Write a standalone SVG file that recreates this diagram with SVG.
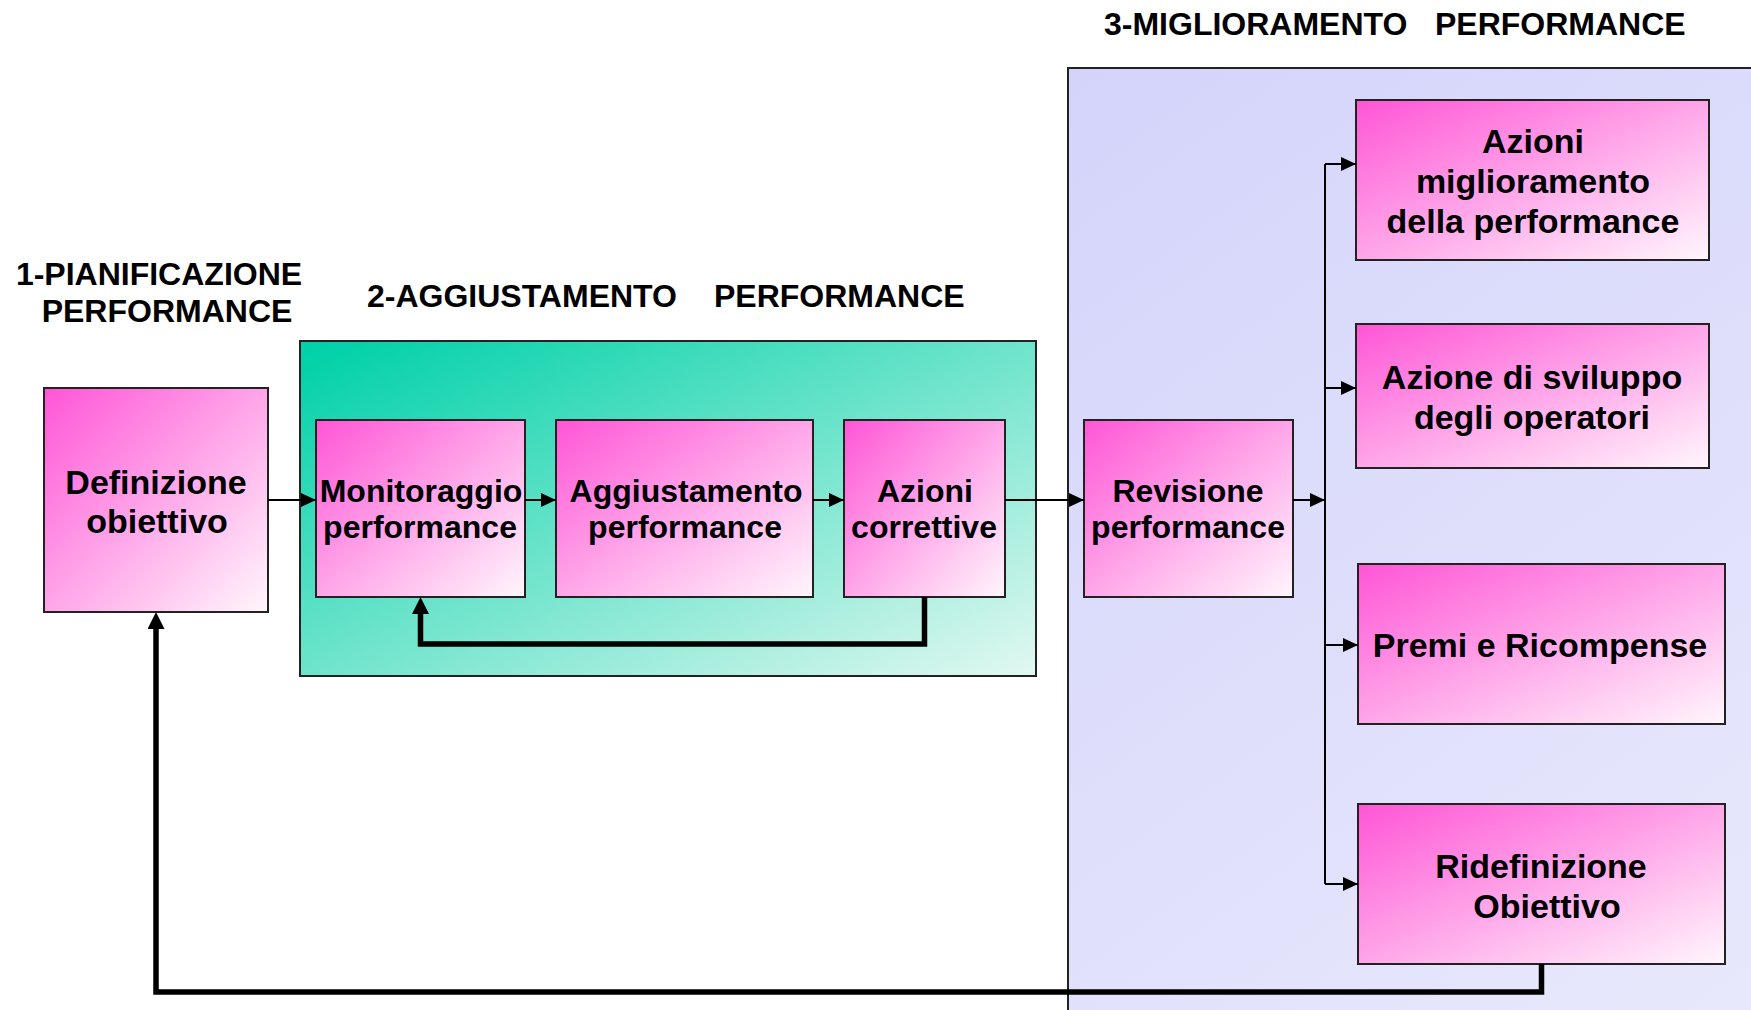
<svg xmlns="http://www.w3.org/2000/svg" width="1751" height="1010" viewBox="0 0 1751 1010">
  <defs>
    <linearGradient id="pink" x1="0" y1="0" x2="1" y2="1">
      <stop offset="0" stop-color="#ff55d6"/>
      <stop offset="1" stop-color="#fff6fc"/>
    </linearGradient>
    <linearGradient id="teal" x1="0" y1="0" x2="1" y2="1">
      <stop offset="0" stop-color="#00d1a8"/>
      <stop offset="0.05" stop-color="#06d2aa"/>
      <stop offset="1" stop-color="#e2f8f1"/>
    </linearGradient>
    <linearGradient id="lav" gradientUnits="userSpaceOnUse" x1="1068" y1="68" x2="1751" y2="1010">
      <stop offset="0" stop-color="#d4d4fb"/>
      <stop offset="1" stop-color="#e8e8fc"/>
    </linearGradient>
    <marker id="ah" markerUnits="userSpaceOnUse" markerWidth="15" markerHeight="14" refX="15" refY="7" orient="auto">
      <path d="M0,0 L15,7 L0,14 z" fill="#000"/>
    </marker>
    <marker id="ahb" markerUnits="userSpaceOnUse" markerWidth="17" markerHeight="17" refX="0" refY="8.5" orient="auto">
      <path d="M0,0 L17,8.5 L0,17 z" fill="#000"/>
    </marker>
  </defs>
  <style>
    .box { fill: url(#pink); stroke: #222; stroke-width: 2; }
    .t { font-family: "Liberation Sans", Arial, sans-serif; font-weight: bold; fill: #000; text-anchor: middle; }
    .n32 { font-size: 32px; }
    .n34 { font-size: 34px; }
    .title { font-family: "Liberation Sans", Arial, sans-serif; font-weight: bold; font-size: 32px; fill: #000; }
    .thin { fill: none; stroke: #000; stroke-width: 2; }
    .thick { fill: none; stroke: #000; stroke-width: 5.5; }
  </style>
  <rect width="1751" height="1010" fill="#fff"/>

  <g id="containers">
    <rect id="phase2" x="300" y="341" width="736" height="335" fill="url(#teal)" stroke="#222" stroke-width="2"/>
    <rect id="phase3" x="1068" y="68" width="700" height="960" fill="url(#lav)" stroke="#222" stroke-width="2"/>
  </g>

  <g id="titles">
    <text class="title" text-anchor="middle"><tspan x="159" y="285">1-PIANIFICAZIONE</tspan><tspan x="167" y="322">PERFORMANCE</tspan></text>
    <text class="title"><tspan x="367" y="307">2-AGGIUSTAMENTO</tspan><tspan x="714" y="307">PERFORMANCE</tspan></text>
    <text class="title"><tspan x="1104" y="35">3-MIGLIORAMENTO</tspan><tspan x="1435" y="35">PERFORMANCE</tspan></text>
  </g>

  <g id="definizione">
    <rect class="box" x="44" y="388" width="224" height="224"/>
    <text class="t n34"><tspan x="156" y="494">Definizione</tspan><tspan x="157" y="533">obiettivo</tspan></text>
  </g>
  <g id="monitoraggio">
    <rect class="box" x="316" y="420" width="209" height="177"/>
    <text class="t n32"><tspan x="421" y="502">Monitoraggio</tspan><tspan x="420" y="538">performance</tspan></text>
  </g>
  <g id="aggiustamento">
    <rect class="box" x="556" y="420" width="257" height="177"/>
    <text class="t n32"><tspan x="686" y="502">Aggiustamento</tspan><tspan x="685" y="538">performance</tspan></text>
  </g>
  <g id="azioni-correttive">
    <rect class="box" x="844" y="420" width="161" height="177"/>
    <text class="t n32"><tspan x="925" y="502">Azioni</tspan><tspan x="924" y="538">correttive</tspan></text>
  </g>
  <g id="revisione">
    <rect class="box" x="1084" y="420" width="209" height="177"/>
    <text class="t n32"><tspan x="1188" y="502">Revisione</tspan><tspan x="1188" y="538">performance</tspan></text>
  </g>
  <g id="azioni-miglioramento">
    <rect class="box" x="1356" y="100" width="353" height="160"/>
    <text class="t n34"><tspan x="1533" y="153">Azioni</tspan><tspan x="1533" y="193">miglioramento</tspan><tspan x="1533" y="233">della performance</tspan></text>
  </g>
  <g id="azione-sviluppo">
    <rect class="box" x="1356" y="324" width="353" height="144"/>
    <text class="t n34"><tspan x="1532" y="389">Azione di sviluppo</tspan><tspan x="1532" y="429">degli operatori</tspan></text>
  </g>
  <g id="premi">
    <rect class="box" x="1358" y="564" width="367" height="160"/>
    <text class="t n34"><tspan x="1540" y="657">Premi e Ricompense</tspan></text>
  </g>
  <g id="ridefinizione">
    <rect class="box" x="1358" y="804" width="367" height="160"/>
    <text class="t n34"><tspan x="1541" y="878">Ridefinizione</tspan><tspan x="1547" y="918">Obiettivo</tspan></text>
  </g>

  <g id="connectors">
    <path class="thin" d="M268,500 H316" marker-end="url(#ah)"/>
    <path class="thin" d="M525,500 H556" marker-end="url(#ah)"/>
    <path class="thin" d="M813,500 H844" marker-end="url(#ah)"/>
    <path class="thin" d="M1005,500 H1084" marker-end="url(#ah)"/>
    <path class="thin" d="M1293,500 H1325" marker-end="url(#ah)"/>
    <path class="thin" d="M1325,164 V884"/>
    <path class="thin" d="M1325,164 H1356" marker-end="url(#ah)"/>
    <path class="thin" d="M1325,388 H1356" marker-end="url(#ah)"/>
    <path class="thin" d="M1325,645 H1358" marker-end="url(#ah)"/>
    <path class="thin" d="M1325,884 H1358" marker-end="url(#ah)"/>
    <path class="thick" d="M924.5,597 V644 H420.5 V614" marker-end="url(#ahb)"/>
    <path class="thick" d="M1541.5,964 V992 H156 V629" marker-end="url(#ahb)"/>
  </g>
</svg>
